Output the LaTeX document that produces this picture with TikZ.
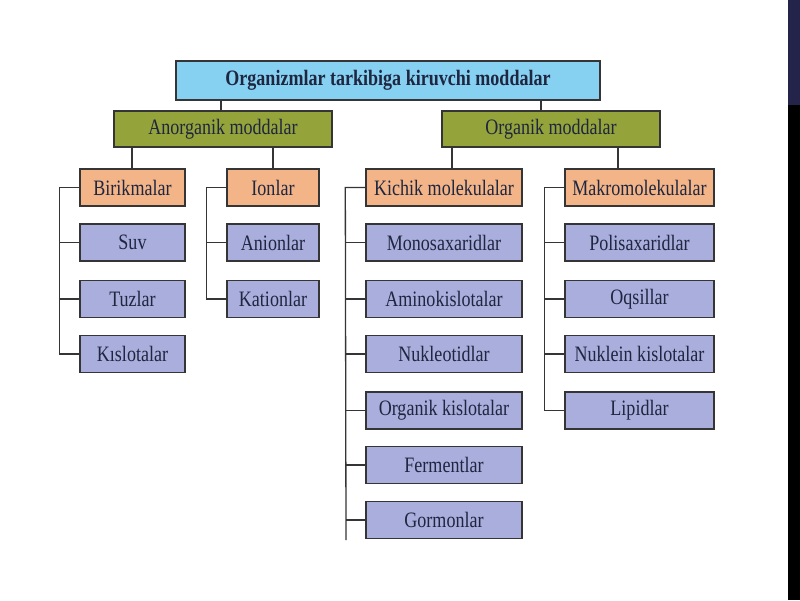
\documentclass[tikz,border=0pt]{standalone}
\usepackage{fontspec}
\setmainfont[FakeStretch=0.82]{Liberation Serif}
\usetikzlibrary{calc}
\definecolor{topc}{HTML}{86D0F2}
\definecolor{grn}{HTML}{94A33A}
\definecolor{peach}{HTML}{F3B488}
\definecolor{lav}{HTML}{A9AEDC}
\definecolor{txt}{HTML}{1E2640}
\definecolor{edge}{HTML}{353535}
\definecolor{navy}{HTML}{24244A}
\tikzset{
  box/.style={draw=edge, line width=1.4pt, inner sep=0pt, text=txt,
    font=\fontsize{22}{24}\selectfont, minimum height=37pt},
  topbox/.style={box, fill=topc, font=\bfseries\fontsize{22}{24}\selectfont, minimum width=424pt, minimum height=39pt},
  grnbox/.style={box, fill=grn, minimum width=218pt, minimum height=36pt},
  headbox/.style={box, fill=peach},
  itembox/.style={box, fill=lav},
  c1/.style={minimum width=105pt},
  c2/.style={minimum width=92pt},
  c3/.style={minimum width=156pt},
  c4/.style={minimum width=149pt},
  conn/.style={draw=edge, line width=1.3pt}
}
\begin{document}
\begin{tikzpicture}[x=1pt,y=-1pt]
\useasboundingbox (0,0) rectangle (800,600);
\fill[white] (0,0) rectangle (800,600);
\fill[black] (788,0) rectangle (800,600);
\fill[navy] (788,0) rectangle (800,105);

\node[topbox] (top) at (388,80.5) {Organizmlar tarkibiga kiruvchi moddalar};
\node[grnbox] (ano) at (223,129) {Anorganik moddalar};
\node[grnbox] (org) at (551,129) {Organik moddalar};

% column 1
\node[headbox,c1] (bir) at (132.5,187.5) {Birikmalar};
\node[itembox,c1] (suv) at (132.5,242.5) {Suv};
\node[itembox,c1] (tuz) at (132.5,299) {Tuzlar};
\node[itembox,c1] (kis) at (132.5,354) {Kıslotalar};
% column 2
\node[headbox,c2] (ion) at (273,187.5) {Ionlar};
\node[itembox,c2] (ani) at (273,242.5) {Anionlar};
\node[itembox,c2] (kat) at (273,299) {Kationlar};
% column 3
\node[headbox,c3] (kic) at (444,187.5) {Kichik molekulalar};
\node[itembox,c3] (mon) at (444,242.5) {Monosaxaridlar};
\node[itembox,c3] (ami) at (444,299) {Aminokislotalar};
\node[itembox,c3] (nuk) at (444,354) {Nukleotidlar};
\node[itembox,c3] (oki) at (444,410.5) {Organik kislotalar};
\node[itembox,c3] (fer) at (444,465) {Fermentlar};
\node[itembox,c3] (gor) at (444,520) {Gormonlar};
\coordinate (kend) at (346,540);
% column 4
\node[headbox,c4] (mak) at (639.5,187.5) {Makromolekulalar};
\node[itembox,c4] (pol) at (639.5,242.5) {Polisaxaridlar};
\node[itembox,c4] (oqs) at (639.5,299) {Oqsillar};
\node[itembox,c4] (nkl) at (639.5,354) {Nuklein kislotalar};
\node[itembox,c4] (lip) at (639.5,410.5) {Lipidlar};

% top level connectors
\draw[conn] ([xshift=-2pt]ano.north) -- ([xshift=-2pt]ano.north |- top.south);
\draw[conn] ([xshift=-10pt]org.north) -- ([xshift=-10pt]org.north |- top.south);
\draw[conn] ([xshift=-0.5pt]bir.north) -- ([xshift=-0.5pt]bir.north |- ano.south);
\draw[conn] (ion.north) -- (ion.north |- ano.south);
\draw[conn] ([xshift=8pt]kic.north) -- ([xshift=8pt]kic.north |- org.south);
\draw[conn] ([xshift=-21.5pt]mak.north) -- ([xshift=-21.5pt]mak.north |- org.south);

% buses
\foreach \c in {suv,tuz,kis} \draw[conn] (bir.west) -- ++(-20,0) |- (\c.west);
\foreach \c in {ani,kat} \draw[conn] (ion.west) -- ++(-20,0) |- (\c.west);
\draw[conn] (kic.west) -- ++(-20,0) -- (kend);
\foreach \c in {mon,ami,nuk,oki,fer,gor} \draw[conn] (\c.west) -- (\c.west -| kend);
\foreach \c in {pol,oqs,nkl,lip} \draw[conn] (mak.west) -- ++(-20,0) |- (\c.west);
\end{tikzpicture}
\end{document}
